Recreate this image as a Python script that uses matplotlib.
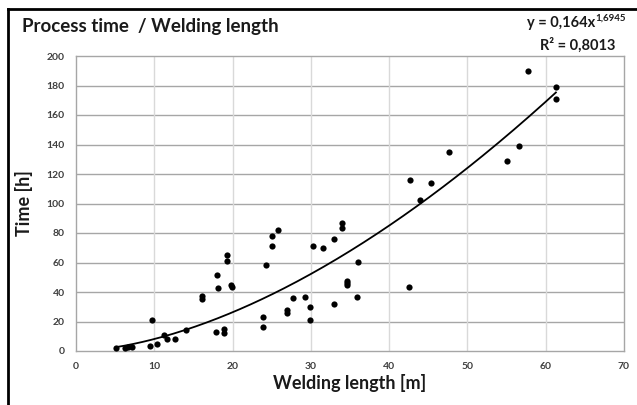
import numpy as np
import matplotlib
matplotlib.use("Agg")
import matplotlib.pyplot as plt
from matplotlib.lines import Line2D

# Data
welding_length = [5.1, 6.3, 6.7, 7.1, 9.4, 9.65, 10.4, 11.3, 11.6, 12.6, 14.1,
                  16.1, 16.1, 17.9, 18.0, 18.2, 18.9, 18.9, 19.3, 19.3, 19.8, 19.9,
                  23.9, 23.9, 24.3, 25.1, 25.1, 25.8, 27.0, 27.0, 27.7, 29.3, 29.9,
                  29.9, 30.3, 31.5, 33.0, 33.0, 34.0, 34.0, 34.6, 34.6, 34.6, 35.9,
                  36.0, 42.5, 42.7, 44.0, 45.3, 47.7, 55.1, 56.6, 57.7, 61.3, 61.3]
process_time = [1.8, 2.3, 2.5, 2.5, 3.4, 21.3, 4.5, 10.8, 7.9, 8.1, 14.1,
                37.3, 35.5, 12.9, 51.5, 42.5, 15.2, 12.4, 65.3, 61.0, 44.5, 43.2,
                23.3, 16.0, 58.3, 78.0, 71.2, 82.0, 27.8, 26.0, 35.7, 36.8, 30.0,
                20.7, 71.2, 69.6, 75.7, 31.9, 86.6, 83.6, 47.7, 45.9, 44.5, 36.8,
                60.6, 43.2, 116.0, 102.4, 113.7, 135.1, 129.0, 139.2, 190.0, 178.7, 170.6]
fit_a = 0.164
fit_b = 1.6945
x_ticks = [0, 10, 20, 30, 40, 50, 60, 70]
y_ticks = [0, 20, 40, 60, 80, 100, 120, 140, 160, 180, 200]

FONT = ["Lato", "DejaVu Sans"]
plt.rcParams['font.family'] = FONT

fig = plt.figure(figsize=(6.37, 4.05), dpi=100)
ax = fig.add_axes([76/637, 1-351/405, (624-76)/637, (351-56)/405])

ax.scatter(welding_length, process_time, s=20, color="black", zorder=3, linewidths=0)
xf = np.linspace(min(welding_length), max(welding_length), 200)
ax.plot(xf, fit_a * xf ** fit_b, color="black", lw=1.3, zorder=2)

ax.set_xlim(0, 70)
ax.set_ylim(0, 200)
ax.set_xticks(x_ticks)
ax.set_yticks(y_ticks)
ax.tick_params(length=0, labelsize=7.5, colors="#404040", pad=8)
for lab in ax.get_xticklabels() + ax.get_yticklabels():
    lab.set_fontweight("bold")
for v in y_ticks[1:-1]:
    ax.axhline(v, color="#A6A6A6", lw=1.0, zorder=1)
for v in x_ticks[1:-1]:
    ax.axvline(v, color="#D9D9D9", lw=1.0, zorder=1)
for s in ax.spines.values():
    s.set_color("#A6A6A6")
    s.set_linewidth(1.0)

ax.set_xlabel("Welding length [m]", fontsize=13, color="#1a1a1a", labelpad=2)
ax.set_ylabel("Time [h]", fontsize=13, color="#1a1a1a", fontweight="bold", labelpad=10)
ax.xaxis.label.set_fontweight("bold")

fig.text(22/637, 1-32/405, "Process time  / Welding length", fontsize=13.5,
         fontweight="bold", color="#1a1a1a", ha="left", va="baseline")

# equation with separate superscript
sup = fig.text(626/637, 1-21/405, "1,6945", fontsize=7,
               fontweight="bold", color="#1a1a1a", ha="right", va="baseline")
fig.canvas.draw()
bb = sup.get_window_extent()
fig.text((bb.x0 - 0.5)/637, 1-27/405, "y = 0,164x", fontsize=10.5,
         fontweight="bold", color="#1a1a1a", ha="right", va="baseline")
fig.text(616/637, 1-50/405, "R² = 0,8013", fontsize=10.5,
         fontweight="bold", color="#1a1a1a", ha="right", va="baseline")

# outer frame (top and left edges visible)
fig.add_artist(Line2D([8/637, 8/637], [0, 1-9/405], color="black", lw=2, transform=fig.transFigure))
fig.add_artist(Line2D([8/637, 1], [1-9/405, 1-9/405], color="black", lw=2, transform=fig.transFigure))

fig.savefig("out.png", dpi=100)
